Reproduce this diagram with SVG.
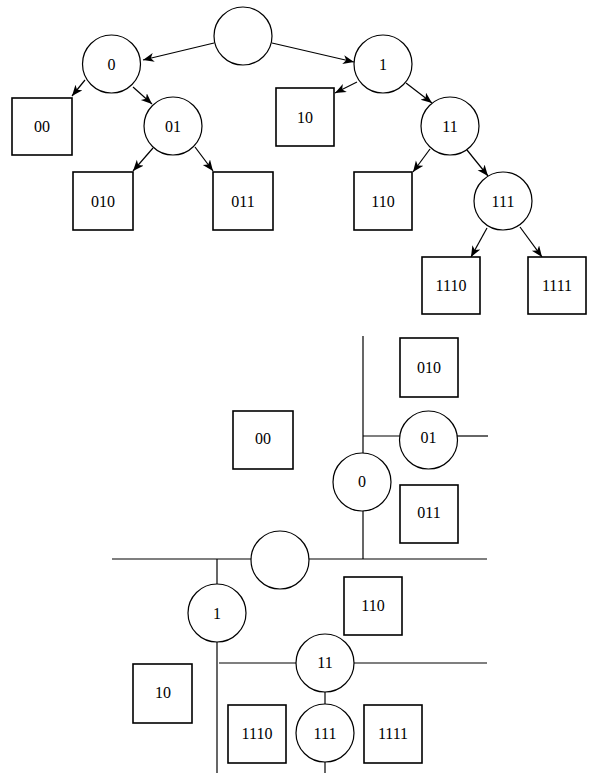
<svg xmlns="http://www.w3.org/2000/svg" width="593" height="781" viewBox="0 0 593 781">
<defs>
<marker id="arr" markerUnits="userSpaceOnUse" markerWidth="12" markerHeight="10" refX="11" refY="4.5" orient="auto">
<path d="M0,0 L11,4.5 L0,9 L3,4.5 z" fill="#000"/>
</marker>
<style>
.c{fill:#fff;stroke:#000;stroke-width:1.2}
.b{fill:#fff;stroke:#000;stroke-width:1.6}
.t{font-family:"Liberation Serif","DejaVu Serif",serif;font-size:16px;text-anchor:middle;dominant-baseline:central;fill:#000}
.e{stroke:#000;stroke-width:1.2;fill:none}
.a{stroke:#000;stroke-width:1.2;fill:none;marker-end:url(#arr)}
</style>
</defs>
<rect width="593" height="781" fill="#fff"/>
<g id="connectors">
<line class="a" x1="214" y1="43" x2="143" y2="60"/>
<line class="a" x1="272" y1="43" x2="354" y2="62"/>
<line class="a" x1="85" y1="80" x2="72" y2="96"/>
<line class="a" x1="133" y1="87" x2="152" y2="104"/>
<line class="a" x1="153" y1="148" x2="133" y2="171"/>
<line class="a" x1="195" y1="147" x2="213" y2="171"/>
<line class="a" x1="357" y1="82" x2="335" y2="93"/>
<line class="a" x1="406" y1="83" x2="432" y2="103"/>
<line class="a" x1="430" y1="149" x2="413" y2="172"/>
<line class="a" x1="467" y1="150" x2="488" y2="176"/>
<line class="a" x1="487" y1="228" x2="471" y2="257"/>
<line class="a" x1="520" y1="227" x2="542" y2="257"/>
<line class="e" x1="363" y1="336" x2="363" y2="453"/>
<line class="e" x1="363" y1="511" x2="363" y2="559"/>
<line class="e" x1="363" y1="436" x2="400" y2="436"/>
<line class="e" x1="457" y1="436" x2="488" y2="436"/>
<line class="e" x1="112" y1="559" x2="251" y2="559"/>
<line class="e" x1="309" y1="559" x2="487" y2="559"/>
<line class="e" x1="217" y1="559" x2="217" y2="584"/>
<line class="e" x1="217" y1="642" x2="217" y2="773"/>
<line class="e" x1="219" y1="663" x2="296" y2="663"/>
<line class="e" x1="354" y1="663" x2="487" y2="663"/>
<line class="e" x1="325" y1="692" x2="325" y2="704"/>
<line class="e" x1="325" y1="762" x2="325" y2="773"/>
</g>
<g id="t-root"><circle class="c" cx="243" cy="36" r="29"/></g>
<g id="t-0"><circle class="c" cx="111.5" cy="64" r="29"/><text class="t" x="111.5" y="64">0</text></g>
<g id="t-00"><rect class="b" x="12" y="98" width="60" height="57"/><text class="t" x="42" y="126">00</text></g>
<g id="t-01"><circle class="c" cx="173" cy="126" r="29"/><text class="t" x="173" y="126">01</text></g>
<g id="t-010"><rect class="b" x="73" y="172" width="60" height="58"/><text class="t" x="103" y="201">010</text></g>
<g id="t-011"><rect class="b" x="213" y="172" width="60" height="58"/><text class="t" x="243" y="201">011</text></g>
<g id="t-1"><circle class="c" cx="383" cy="64" r="29"/><text class="t" x="383" y="64">1</text></g>
<g id="t-10"><rect class="b" x="276" y="88" width="58" height="58"/><text class="t" x="305" y="117">10</text></g>
<g id="t-11"><circle class="c" cx="450" cy="126" r="29"/><text class="t" x="450" y="126">11</text></g>
<g id="t-110"><rect class="b" x="354" y="172" width="58" height="58"/><text class="t" x="383" y="201">110</text></g>
<g id="t-111"><circle class="c" cx="503" cy="201" r="29"/><text class="t" x="503" y="201">111</text></g>
<g id="t-1110"><rect class="b" x="422" y="257" width="58" height="57"/><text class="t" x="451" y="285">1110</text></g>
<g id="t-1111"><rect class="b" x="528" y="257" width="58" height="57"/><text class="t" x="557" y="285">1111</text></g>
<g id="b-010"><rect class="b" x="400" y="338" width="58" height="59"/><text class="t" x="429" y="367">010</text></g>
<g id="b-01"><circle class="c" cx="428.5" cy="440" r="29"/><text class="t" x="428.5" y="437">01</text></g>
<g id="b-00"><rect class="b" x="233" y="411" width="60" height="58"/><text class="t" x="263" y="438">00</text></g>
<g id="b-0"><circle class="c" cx="362" cy="482" r="29"/><text class="t" x="362" y="481">0</text></g>
<g id="b-011"><rect class="b" x="400" y="485" width="58" height="58"/><text class="t" x="429" y="512">011</text></g>
<g id="b-root"><circle class="c" cx="280" cy="560" r="29"/></g>
<g id="b-1"><circle class="c" cx="217" cy="613" r="29"/><text class="t" x="217" y="613">1</text></g>
<g id="b-110"><rect class="b" x="344" y="577" width="58" height="58"/><text class="t" x="373" y="605">110</text></g>
<g id="b-11"><circle class="c" cx="325" cy="663" r="29"/><text class="t" x="325" y="662">11</text></g>
<g id="b-10"><rect class="b" x="133" y="664" width="59" height="59"/><text class="t" x="163" y="692">10</text></g>
<g id="b-111"><circle class="c" cx="325" cy="733" r="29"/><text class="t" x="325" y="733">111</text></g>
<g id="b-1110"><rect class="b" x="228" y="705" width="58" height="58"/><text class="t" x="257" y="733">1110</text></g>
<g id="b-1111"><rect class="b" x="364" y="705" width="58" height="58"/><text class="t" x="393" y="733">1111</text></g>
</svg>
